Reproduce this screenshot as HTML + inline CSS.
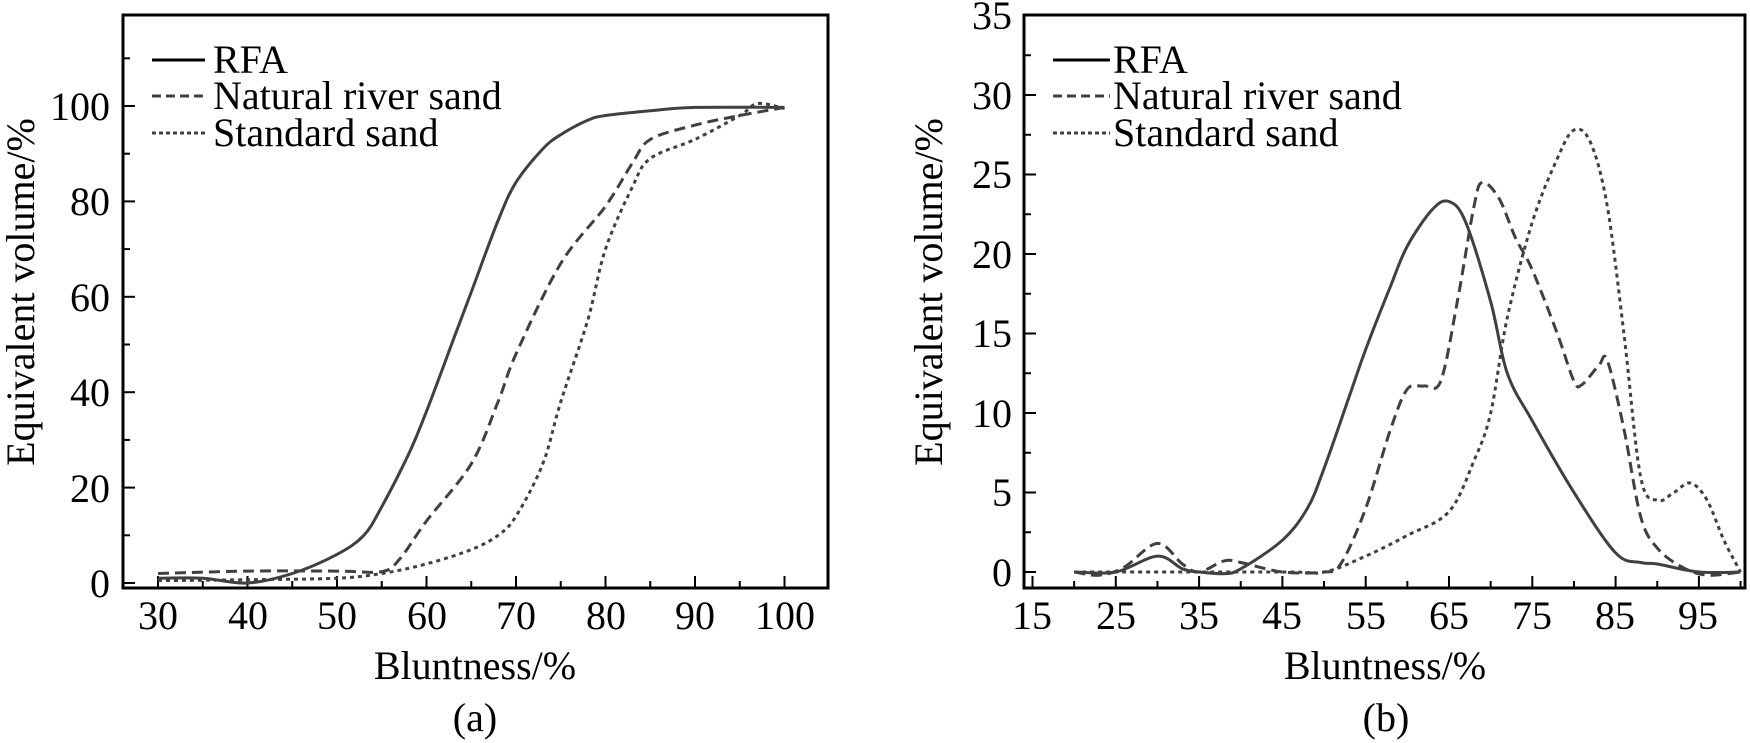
<!DOCTYPE html>
<html><head><meta charset="utf-8"><style>
html,body{margin:0;padding:0;background:#fff}
svg{display:block}
text{font-family:"Liberation Serif",serif;fill:#000}
</style></head><body>
<svg id="s" width="1750" height="743" viewBox="0 0 1750 743" xmlns="http://www.w3.org/2000/svg">
<g id="g"></g>
<g font-size="40">
<text x="110" y="120" text-anchor="end">100</text>
<text x="110" y="215" text-anchor="end">80</text>
<text x="110" y="311" text-anchor="end">60</text>
<text x="110" y="406" text-anchor="end">40</text>
<text x="110" y="502" text-anchor="end">20</text>
<text x="110" y="597" text-anchor="end">0</text>
<text x="158" y="629" text-anchor="middle">30</text>
<text x="248" y="629" text-anchor="middle">40</text>
<text x="337" y="629" text-anchor="middle">50</text>
<text x="427" y="629" text-anchor="middle">60</text>
<text x="516" y="629" text-anchor="middle">70</text>
<text x="606" y="629" text-anchor="middle">80</text>
<text x="695" y="629" text-anchor="middle">90</text>
<text x="785" y="629" text-anchor="middle">100</text>
<text x="475" y="679" text-anchor="middle">Bluntness/%</text>
<text x="475" y="731" text-anchor="middle">(a)</text>
<text transform="translate(34,292) rotate(-90)" text-anchor="middle">Equivalent volume/%</text>
<text x="213" y="73">RFA</text>
<text x="213" y="109">Natural river sand</text>
<text x="213" y="146">Standard sand</text>
</g>
<g font-size="40">
<text x="1012" y="29" text-anchor="end">35</text>
<text x="1012" y="109" text-anchor="end">30</text>
<text x="1012" y="188" text-anchor="end">25</text>
<text x="1012" y="268" text-anchor="end">20</text>
<text x="1012" y="347" text-anchor="end">15</text>
<text x="1012" y="427" text-anchor="end">10</text>
<text x="1012" y="506" text-anchor="end">5</text>
<text x="1012" y="586" text-anchor="end">0</text>
<text x="1032" y="629" text-anchor="middle">15</text>
<text x="1116" y="629" text-anchor="middle">25</text>
<text x="1199" y="629" text-anchor="middle">35</text>
<text x="1282" y="629" text-anchor="middle">45</text>
<text x="1366" y="629" text-anchor="middle">55</text>
<text x="1449" y="629" text-anchor="middle">65</text>
<text x="1532" y="629" text-anchor="middle">75</text>
<text x="1615" y="629" text-anchor="middle">85</text>
<text x="1698" y="629" text-anchor="middle">95</text>
<text x="1385" y="679" text-anchor="middle">Bluntness/%</text>
<text x="1386" y="731" text-anchor="middle">(b)</text>
<text transform="translate(942,292) rotate(-90)" text-anchor="middle">Equivalent volume/%</text>
<text x="1113" y="73">RFA</text>
<text x="1113" y="109">Natural river sand</text>
<text x="1113" y="146">Standard sand</text>
</g>
</svg>
<script>
var NS="http://www.w3.org/2000/svg",g=document.getElementById('g');
function el(t,a){var e=document.createElementNS(NS,t);for(var k in a)e.setAttribute(k,a[k]);g.appendChild(e);return e;}
function line(x1,y1,x2,y2,w){el('line',{x1:x1,y1:y1,x2:x2,y2:y2,stroke:'#000','stroke-width':w||2});}
function smooth(p){var d='M'+p[0][0].toFixed(1)+','+p[0][1].toFixed(1);
for(var i=0;i<p.length-1;i++){var p0=p[i-1]||p[i],p1=p[i],p2=p[i+1],p3=p[i+2]||p2;
d+=' C'+(p1[0]+(p2[0]-p0[0])/6).toFixed(1)+','+(p1[1]+(p2[1]-p0[1])/6).toFixed(1)+' '+(p2[0]-(p3[0]-p1[0])/6).toFixed(1)+','+(p2[1]-(p3[1]-p1[1])/6).toFixed(1)+' '+p2[0].toFixed(1)+','+p2[1].toFixed(1);}return d;}
function curve(data,X,Y,dash){var p=[];for(var i=0;i<data.length;i+=2)p.push([X(data[i]),Y(data[i+1])]);
var a={d:smooth(p),fill:'none',stroke:'#404040','stroke-width':3};if(dash)a['stroke-dasharray']=dash;el('path',a);}
var LX=function(v){return 158+(v-30)*8.95},LY=function(v){return 583-v*4.77};
el('rect',{x:123,y:15,width:705,height:573,fill:'none',stroke:'#000','stroke-width':3});
for(var v=0;v<=110;v+=10){var y=LY(v);line(123,y,v%20==0?135:130,y);}
for(var v=30;v<=100;v+=5){var x=LX(v);line(x,588,x,v%10==0?576:581);}
curve([30,1,35,1,40,0,45,2,50,6,53,10,55,16,58,27,60,36,63,51,65,61,68,76,70,84,73,91,75,94,78,97,80,98,85,99,90,99.7,100,99.7],LX,LY);
curve([30,2,40,2.5,50,2.5,55,2.4,57,5,60,13,65,25,68,38,70,48,75,67,80,79,83,88,85,93,90,96,95,98,100,99.7],LX,LY,'11,6');
curve([30,0.5,40,0.7,50,1,55,2,60,4,65,7,68,10,70,14,73,25,75,38,78,55,80,70,83,83,85,89,90,93,95,98,97,100.5,100,99.5],LX,LY,'4,4');
line(152,60,205,60,3);el('line',{x1:152,y1:96,x2:205,y2:96,stroke:'#404040','stroke-width':3,'stroke-dasharray':'9,5'});
el('line',{x1:152,y1:133,x2:205,y2:133,stroke:'#404040','stroke-width':3,'stroke-dasharray':'4,3'});
var RX=function(v){return 1032.5+(v-15)*8.33},RY=function(v){return 572-v*15.9};
el('rect',{x:1024,y:15,width:721,height:573,fill:'none',stroke:'#000','stroke-width':3});
for(var v=0;v<=35;v+=2.5){var y=RY(v);line(1024,y,v%5==0?1036:1031,y);}
for(var v=15;v<=100;v+=5){var x=RX(v);line(x,588,x,v%10==5?576:581);}
curve([20,0,25,0,30,1,33,0.2,35,0,38,-0.1,40,0.2,45,2,48,4,50,6.5,53,11,55,14,58,18,60,20.5,63,22.8,65,23.3,67,22,70,17,72,12.5,75,9.5,80,5,85,1.2,88,0.6,90,0.5,95,0,100,0],RX,RY);
curve([20,0,23,-0.2,26,0.3,30,1.8,33,0.5,35,0,38,0.7,40,0.6,45,0,50,0,52,0.5,55,4,58,9,60,11.5,62,11.7,64,12,66,17,68,23,69,24.5,71,23.5,73,21,75,19,78,15,80,12,81,11.8,83,13,84,13.3,86,9,88,3.5,90,1.5,93,0.3,96,-0.2,100,0],RX,RY,'11,6');
curve([20,0,45,0,50,0,55,1,60,2.3,65,3.8,68,7,70,10,72,16,75,22,78,26,80,27.8,82,27,84,23,86,15,88,6,90,4.5,92,5,94,5.6,96,4.5,98,2,100,0],RX,RY,'4,4');
line(1053,60,1110,60,3);el('line',{x1:1053,y1:96,x2:1110,y2:96,stroke:'#404040','stroke-width':3,'stroke-dasharray':'9,5'});
el('line',{x1:1053,y1:133,x2:1110,y2:133,stroke:'#404040','stroke-width':3,'stroke-dasharray':'4,3'});
</script>
</body></html>
